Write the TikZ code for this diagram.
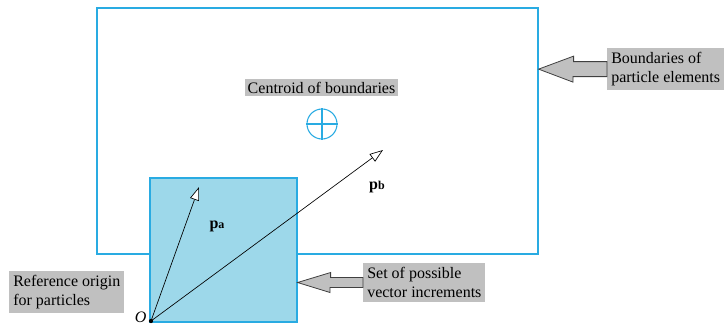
\documentclass[tikz,border=0pt]{standalone}
\usepackage{fontspec}
\setmainfont{Liberation Serif}
\usetikzlibrary{arrows.meta, positioning, fit, calc}
\definecolor{bndblue}{HTML}{29ABE2}
\definecolor{incfill}{HTML}{9DD8EA}
\definecolor{lblgray}{HTML}{C0C0C0}
\tikzstyle{boundary}   = [rectangle, draw=bndblue, line width=0.9pt, inner sep=0pt]
\tikzstyle{incbox}     = [rectangle, draw=bndblue, fill=incfill, line width=0.9pt, inner sep=0pt]
\tikzstyle{lbl}        = [rectangle, fill=lblgray, align=left, inner sep=3pt,
                          font=\fontsize{12}{14.3}\selectfont]
\tikzstyle{blockarrow} = [draw=black!75, fill=lblgray, line width=0.6pt, line join=miter]
\tikzstyle{vec}        = [line width=0.5pt, -{Triangle[open, length=10pt, width=7pt, fill=white]}]

\begin{document}
\begin{tikzpicture}[x=0.75pt, y=-0.75pt]
  \useasboundingbox (0,0) rectangle (725,324);

  % boundaries and vector increments
  \node (bounds) [boundary, fit={(97,8) (538,254)}] {};
  \node (incr)   [incbox, fit={(150,178) (297,322)}] {};

  % centroid
  \node (centroid) [circle, draw=bndblue, line width=0.8pt, minimum size=22.5pt, inner sep=0pt] at (322,124) {};
  \draw[bndblue, line width=0.8pt] (centroid.north) -- (centroid.south);
  \draw[bndblue, line width=0.8pt] (centroid.west) -- (centroid.east);

  % labels
  \node (centlbl) [lbl, inner sep=2pt] at (321.5,87.5) {Centroid of boundaries};
  \node (bndlbl)  [lbl, anchor=north west] at (607,48)  {Boundaries of\\particle elements};
  \node (setlbl)  [lbl, anchor=north west] at (363,263) {Set of possible\\vector increments};
  \node (reflbl)  [lbl, anchor=north west] at (9,271)   {Reference origin\\for particles};

  % origin and vectors
  \coordinate (O) at (151,321);
  \coordinate (patip) at (199,187);
  \coordinate (pbtip) at (383,150);
  \fill (O) circle (1.6pt);
  \node (olbl) [font=\fontsize{12}{14}\selectfont\itshape, anchor=east, inner sep=1pt] at (148,317) {O};
  \draw[vec] (O) -- (patip);
  \draw[vec] (O) -- (pbtip);
  \node (palbl) [font=\fontsize{12}{14}\selectfont] at (217,226) {\textbf{p{\fontsize{9}{10}\selectfont a}}};
  \node (pblbl) [font=\fontsize{12}{14}\selectfont] at (377,187) {\textbf{p{\fontsize{9}{10}\selectfont b}}};

  % block arrows
  \draw[blockarrow] (bounds.east |- bndlbl.west) -- ++(35,-13) -- ++(0,5.5)
    -- ($(bndlbl.west)+(0,-7.5)$) -- ($(bndlbl.west)+(0,7.5)$) -- ++(-34,0) -- ++(0,5.5) -- cycle;
  \draw[blockarrow] (incr.east |- setlbl.west) -- ++(33,-10) -- ++(0,5)
    -- ($(setlbl.west)+(0,-5)$) -- ($(setlbl.west)+(0,5)$) -- ++(-33,0) -- ++(0,5) -- cycle;
\end{tikzpicture}
\end{document}
